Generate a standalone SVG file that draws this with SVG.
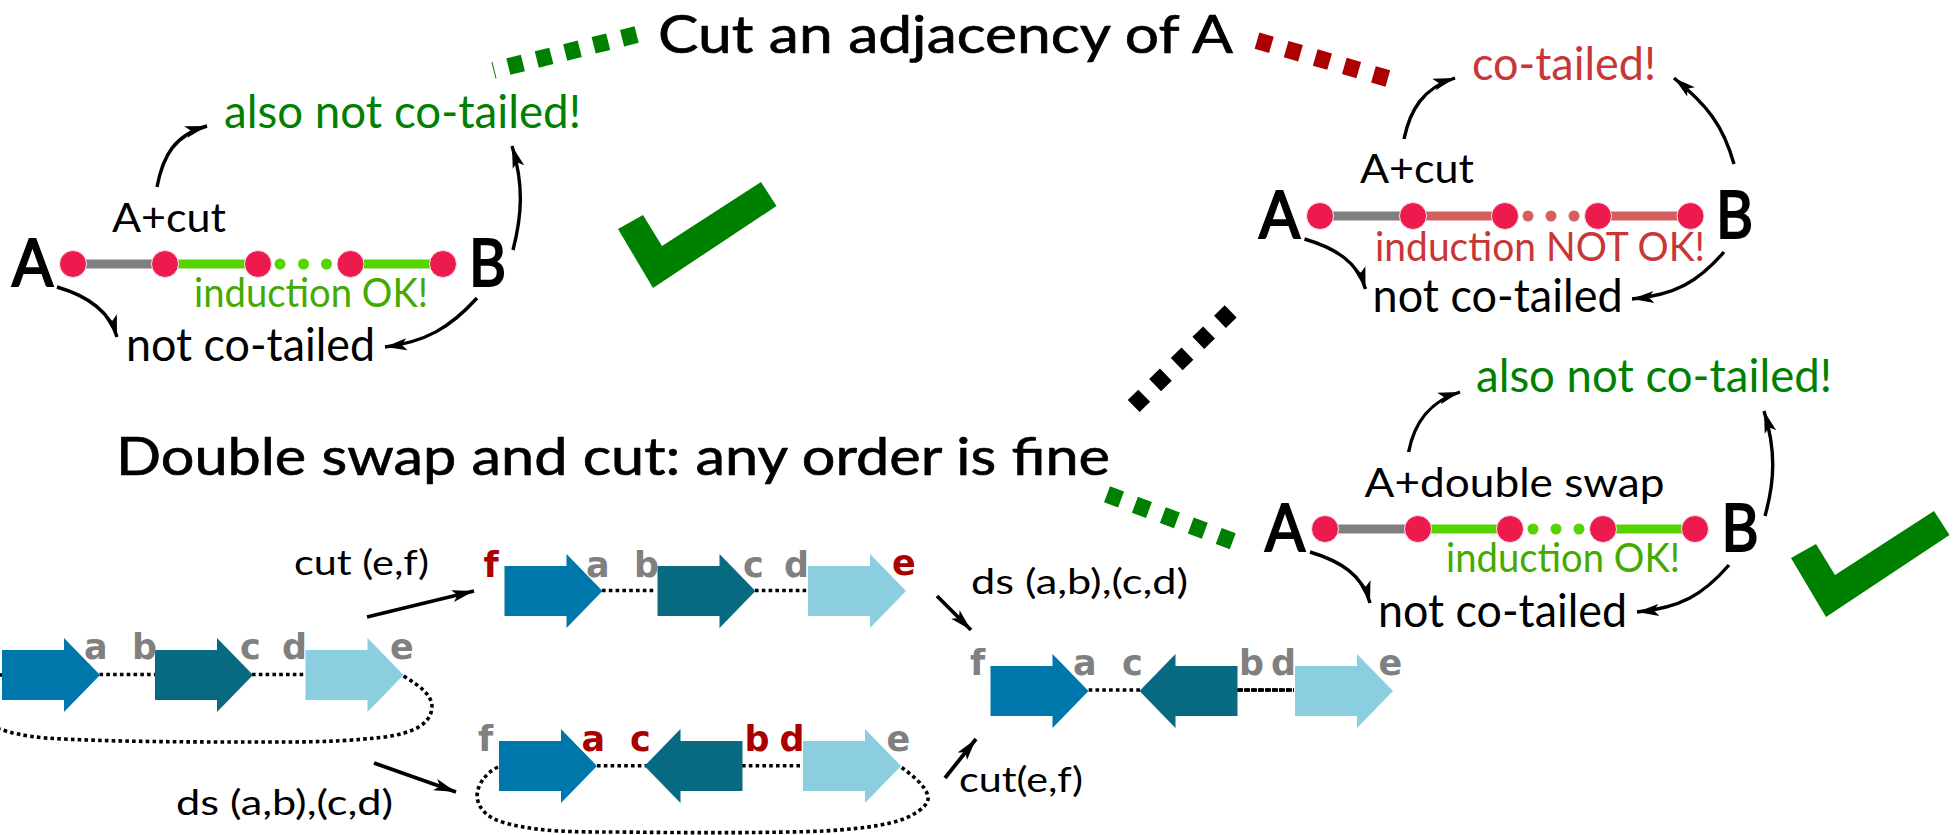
<svg xmlns="http://www.w3.org/2000/svg" width="1955" height="835" viewBox="0 0 1955 835">
<style>
text{font-family:"Lato","Noto Sans","Liberation Sans",sans-serif;fill:#000}
.title{font-size:53px;stroke:#000;stroke-width:.7px}
.big{font-size:66px;stroke:#000;stroke-width:2.2px}
.mid{font-size:46px}
.ind{font-size:40px}
.cap{font-size:40px}
.sm{font-size:35px}
.l{font-family:"DejaVu Sans","Liberation Sans",sans-serif;font-weight:700;font-size:35px;fill:#808080}
.r{fill:#aa0000}
.g{fill:#008000}
.gl{fill:#44aa00}
.rt{fill:#c83737}
.n{fill:#ed1a4e;stroke:#f4e3e8;stroke-width:1}
.e{fill:none;stroke-width:9}
.eg{stroke:#808080}.eo{stroke:#55d400}.er{stroke:#d35f5f}
.do{fill:#55d400}.dr{fill:#d35f5f}
.cv{fill:none;stroke:#000;stroke-width:3.4;marker-end:url(#ah)}
.st{fill:none;stroke:#000;stroke-width:3.8;marker-end:url(#ah)}
.dot{fill:none;stroke:#000;stroke-width:3.6;stroke-dasharray:3.6 3.2}
.b1{fill:#0077aa}.b2{fill:#076a80}.b3{fill:#8acedf}
.dash{fill:none;stroke-width:17}
</style>
<defs>
<marker id="ah" markerUnits="userSpaceOnUse" markerWidth="26" markerHeight="18" refX="22" refY="9" orient="auto">
<path d="M0,3 L22,9 L0,15 L5,9 Z" fill="#000"/>
</marker>
<path id="ar" d="M0,-25 H62 V-37 L98,0 L62,37 V25 H0 Z"/>
<path id="check" d="M0,0 L25,-14 L44,17 L143,-47 L158.500,-23 L35,59 Z" fill="#008000"/>
</defs>

<g id="connectors">
<path class="dash" stroke="#008000" d="M493.500,70.300 L643,33" stroke-dasharray="15 14.300" stroke-dashoffset="14"/>
<path class="dash" stroke="#aa0000" d="M1257,40.700 L1388,78.500" stroke-dasharray="15 15.300"/>
<path class="dash" stroke="#000" d="M1230.700,311.400 L1133.700,406" stroke-dasharray="15 15.200"/>
<path class="dash" stroke="#008000" d="M1107,494.300 L1235,542" stroke-dasharray="15 14.800"/>

<path class="cv" d="M157,187 C163,155 175,135 207,126"/>
<path class="cv" d="M513,250 C522,215 524,185 512,146"/>
<path class="cv" d="M57,287 C88,296 110,312 117,337"/>
<path class="cv" d="M477,298 C450,328 425,342 385,347"/>

<path class="cv" d="M1404,139 C1410,110 1423,88 1455,78"/>
<path class="cv" d="M1734,164 C1723,125 1707,105 1674,78"/>
<path class="cv" d="M1304.500,239 C1335,248 1358,262 1365.500,289"/>
<path class="cv" d="M1724,252 C1698,282 1675,295 1632,299"/>

<path class="cv" d="M1408.600,452 C1414,424 1428,402 1460,392"/>
<path class="cv" d="M1765,516 C1775,480 1776,450 1764,411"/>
<path class="cv" d="M1310,552 C1340,561 1363,575 1370,603"/>
<path class="cv" d="M1729,565 C1703,595 1680,608 1637,612"/>

<path class="st" d="M367,617 L474,591"/>
<path class="st" d="M374,763 L456,792"/>
<path class="st" d="M937,596 L971,630"/>
<path class="st" d="M945,778 L976,739"/>

<path class="dot" d="M0,675 L3,675"/>
<path class="dot" d="M99.500,674.500 H155"/>
<path class="dot" d="M252,674.500 H305"/>
<path class="dot" d="M403.600,676 C420,686 432,695 432,707 C431,725 412,733 385,737 C340,742 310,742 268,742 C190,742 110,742 45,738 C25,736 10,733 0,729"/>
<path class="dot" d="M602,590.500 H655"/>
<path class="dot" d="M755,590.500 H807"/>
<path class="dot" d="M597,765.700 H648"/>
<path class="dot" d="M742,765.700 H803"/>
<path class="dot" d="M498,767 C484,774 477,786 477,797 C479,810 488,818 505,823 C540,832 570,832 620,832 C700,833 770,833 825,831 C870,828 896,824 912,815 C925,808 929,802 928,796 C925,785 912,775 901,767"/>
<path class="dot" d="M1088.700,690 H1140"/>
<path class="dot" d="M1225,690 H1294"/>
<path d="M1237,690 H1294" fill="none" stroke="#000" stroke-width="3.600" stroke-dasharray="6 1"/>
</g>

<g id="graph-cut-ok">
<path class="e eg" d="M73,264 H165"/>
<path class="e eo" d="M165,264 H258 M350.500,264 H443"/>
<circle class="do" cx="280" cy="264" r="5.500"/><circle class="do" cx="303.500" cy="264" r="5.500"/><circle class="do" cx="326.500" cy="264" r="5.500"/>
<circle class="n" cx="73" cy="264" r="13.500"/><circle class="n" cx="165" cy="264" r="13.500"/><circle class="n" cx="258" cy="264" r="13.500"/><circle class="n" cx="350.500" cy="264" r="13.500"/><circle class="n" cx="443" cy="264" r="13.500"/>
<text class="big" x="12" y="286" textLength="41" lengthAdjust="spacingAndGlyphs">A</text>
<text class="big" x="469" y="286" textLength="37" lengthAdjust="spacingAndGlyphs">B</text>
<text class="cap" x="112" y="232" textLength="114" lengthAdjust="spacingAndGlyphs">A+cut</text>
<text class="mid g" x="224" y="128" textLength="357" lengthAdjust="spacingAndGlyphs">also not co-tailed!</text>
<text class="ind gl" x="194" y="307" textLength="234" lengthAdjust="spacingAndGlyphs">induction OK!</text>
<text class="mid" x="126" y="361" textLength="249" lengthAdjust="spacingAndGlyphs">not co-tailed</text>
</g>
<use id="check-left" href="#check" x="618" y="229"/>

<g id="title-cut"><text class="title" x="658" y="53" textLength="575" lengthAdjust="spacingAndGlyphs">Cut an adjacency of A</text></g>

<g id="graph-cut-bad">
<path class="e eg" d="M1320,216 H1413"/>
<path class="e er" d="M1413,216 H1505 M1598,216 H1690.500"/>
<circle class="dr" cx="1528" cy="216" r="5.500"/><circle class="dr" cx="1551" cy="216" r="5.500"/><circle class="dr" cx="1574" cy="216" r="5.500"/>
<circle class="n" cx="1320" cy="216" r="13.500"/><circle class="n" cx="1413" cy="216" r="13.500"/><circle class="n" cx="1505" cy="216" r="13.500"/><circle class="n" cx="1598" cy="216" r="13.500"/><circle class="n" cx="1690.500" cy="216" r="13.500"/>
<text class="big" x="1259" y="238" textLength="41" lengthAdjust="spacingAndGlyphs">A</text>
<text class="big" x="1716" y="238" textLength="37" lengthAdjust="spacingAndGlyphs">B</text>
<text class="cap" x="1360" y="183" textLength="114" lengthAdjust="spacingAndGlyphs">A+cut</text>
<text class="mid rt" x="1472" y="79.500" textLength="184" lengthAdjust="spacingAndGlyphs">co-tailed!</text>
<text class="ind rt" x="1375" y="261" textLength="330" lengthAdjust="spacingAndGlyphs">induction NOT OK!</text>
<text class="mid" x="1372.600" y="312" textLength="250" lengthAdjust="spacingAndGlyphs">not co-tailed</text>
</g>

<g id="title-swap"><text class="title" x="116" y="475" textLength="994" lengthAdjust="spacingAndGlyphs">Double swap and cut: any order is fine</text></g>

<g id="graph-swap-ok">
<path class="e eg" d="M1325,529 H1418"/>
<path class="e eo" d="M1418,529 H1510 M1603,529 H1695"/>
<circle class="do" cx="1533" cy="529" r="5.500"/><circle class="do" cx="1556" cy="529" r="5.500"/><circle class="do" cx="1579" cy="529" r="5.500"/>
<circle class="n" cx="1325" cy="529" r="13.500"/><circle class="n" cx="1418" cy="529" r="13.500"/><circle class="n" cx="1510" cy="529" r="13.500"/><circle class="n" cx="1603" cy="529" r="13.500"/><circle class="n" cx="1695" cy="529" r="13.500"/>
<text class="big" x="1265" y="551" textLength="40" lengthAdjust="spacingAndGlyphs">A</text>
<text class="big" x="1721.600" y="551" textLength="37" lengthAdjust="spacingAndGlyphs">B</text>
<text class="cap" x="1364.500" y="497" textLength="300" lengthAdjust="spacingAndGlyphs">A+double swap</text>
<text class="mid g" x="1476" y="392" textLength="356" lengthAdjust="spacingAndGlyphs">also not co-tailed!</text>
<text class="ind gl" x="1446" y="572" textLength="234" lengthAdjust="spacingAndGlyphs">induction OK!</text>
<text class="mid" x="1378" y="627" textLength="249" lengthAdjust="spacingAndGlyphs">not co-tailed</text>
</g>
<use id="check-right" href="#check" transform="translate(1791 558)"/>

<g id="row-start">
<use class="b1" href="#ar" x="2" y="675"/>
<use class="b2" href="#ar" x="155" y="675"/>
<use class="b3" href="#ar" x="305.500" y="675"/>
<text class="l" x="84" y="659">a</text><text class="l" x="132" y="659">b</text><text class="l" x="240" y="659">c</text><text class="l" x="282" y="659">d</text><text class="l" x="390" y="659">e</text>
</g>

<g id="row-cut-first">
<use class="b1" href="#ar" x="504.500" y="591"/>
<use class="b2" href="#ar" x="657.500" y="591"/>
<use class="b3" href="#ar" x="808" y="591"/>
<text class="l r" x="483.500" y="576.500">f</text><text class="l" x="586" y="576.500">a</text><text class="l" x="634" y="576.500">b</text><text class="l" x="743" y="576.500">c</text><text class="l" x="784" y="576.500">d</text><text class="l r" x="892" y="575">e</text>
</g>

<g id="row-swap-first">
<use class="b1" href="#ar" x="499" y="766"/>
<use class="b2" href="#ar" transform="translate(742.500 766) scale(-1 1)"/>
<use class="b3" href="#ar" x="803" y="766"/>
<text class="l" x="478" y="751">f</text><text class="l r" x="581.500" y="751">a</text><text class="l r" x="630" y="751">c</text><text class="l r" x="744.500" y="751">b</text><text class="l r" x="779.500" y="751">d</text><text class="l" x="886.500" y="751">e</text>
</g>

<g id="row-final">
<use class="b1" href="#ar" x="990.500" y="691"/>
<use class="b2" href="#ar" transform="translate(1237.500 691) scale(-1 1)"/>
<use class="b3" href="#ar" x="1295" y="691"/>
<text class="l" x="970" y="675">f</text><text class="l" x="1073" y="675">a</text><text class="l" x="1122" y="675">c</text><text class="l" x="1239" y="675">b</text><text class="l" x="1271" y="675">d</text><text class="l" x="1378.500" y="675">e</text>
</g>

<g id="edge-labels">
<text class="sm" x="294" y="575" textLength="135" lengthAdjust="spacingAndGlyphs">cut (e,f)</text>
<text class="sm" x="176" y="815" textLength="217" lengthAdjust="spacingAndGlyphs">ds (a,b),(c,d)</text>
<text class="sm" x="971" y="594" textLength="217" lengthAdjust="spacingAndGlyphs">ds (a,b),(c,d)</text>
<text class="sm" x="959" y="791.500" textLength="124" lengthAdjust="spacingAndGlyphs">cut(e,f)</text>
</g>
</svg>
